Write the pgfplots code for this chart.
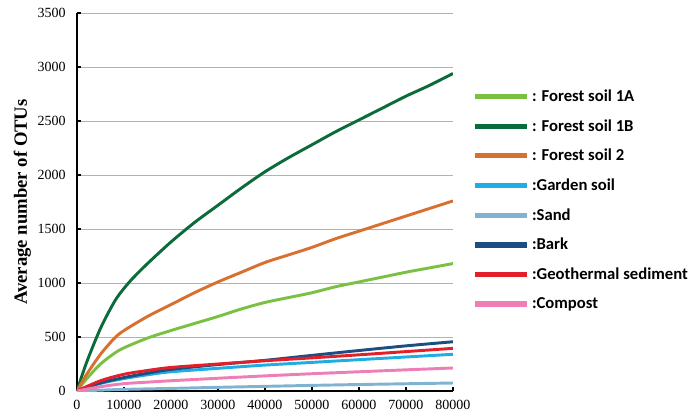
\documentclass[border=0pt]{standalone}
\usepackage{pgfplots}
\pgfplotsset{compat=1.18}
\usepackage{fontspec}
\setmainfont{Liberation Serif}
\newfontfamily\legfont{Carlito}
\definecolor{fs1a}{HTML}{7AC143}
\definecolor{fs1b}{HTML}{0B6B3A}
\definecolor{fs2}{HTML}{D8702F}
\definecolor{garden}{HTML}{1EAEE3}
\definecolor{sand}{HTML}{7FB3D0}
\definecolor{bark}{HTML}{1D4E82}
\definecolor{geo}{HTML}{E3202A}
\definecolor{compost}{HTML}{EE7EB6}

\begin{document}
\begin{tikzpicture}
\path (-57.75pt,-21pt) rectangle (464.25pt,293.25pt);
\begin{axis}[
    at={(0,0)}, anchor=south west,
    scale only axis,
    width=282pt, height=283.5pt,
    xmin=0, xmax=80000, ymin=0, ymax=3500,
    xtick={0,10000,...,80000},
    ytick={0,500,...,3500},
    scaled ticks=false,
    /pgf/number format/assume math mode=true,
    xticklabel style={/pgf/number format/fixed, /pgf/number format/1000 sep={}, font=\rmfamily\fontsize{10.5}{12}\selectfont, yshift=-3pt},
    yticklabel style={/pgf/number format/fixed, /pgf/number format/1000 sep={}, font=\rmfamily\fontsize{10.5}{12}\selectfont, xshift=-5pt},
    axis x line*=bottom, axis y line*=left,
    axis line style={line width=1.2pt, -},
    tick style={black, line width=0.8pt},
    major tick length=3pt,
    ymajorgrids,
    grid style={gray!60, line width=0.7pt},
    ylabel={\bfseries Average number of OTUs},
    ylabel style={font=\rmfamily\fontsize{14}{16}\selectfont, at={(axis description cs:-0.11,0.5)}},
    legend style={at={(rel axis cs:1.04,0.812)}, anchor=north west, draw=none, fill=none,
        font=\legfont\bfseries\fontsize{12.5}{14}\selectfont, row sep=8pt,
        cells={anchor=west}},
    legend image code/.code={\draw[line width=3.8pt] (0pt,0pt) -- (39pt,0pt);},
    every axis plot/.append style={line width=2.2pt, smooth, tension=0.5, no marks},
]
\addplot[color=fs1a] coordinates {
 (0,0) (2000,110) (5000,250) (8000,350) (10000,400) (15000,490) (20000,560) (25000,625) (30000,690)
 (35000,760) (40000,820) (45000,865) (50000,910) (55000,965) (60000,1010) (65000,1055) (70000,1100) (75000,1140) (80000,1180)};
\addlegendentry{: Forest soil 1A}
\addplot[color=fs1b] coordinates {
 (0,0) (2000,260) (5000,580) (8000,830) (10000,950) (12000,1050) (15000,1180) (20000,1380) (25000,1560) (30000,1720)
 (35000,1880) (40000,2030) (45000,2160) (50000,2280) (55000,2400) (60000,2510) (65000,2620) (70000,2730) (75000,2830) (80000,2940)};
\addlegendentry{: Forest soil 1B}
\addplot[color=fs2] coordinates {
 (0,0) (2000,150) (5000,340) (8000,490) (10000,560) (15000,690) (20000,800) (25000,910) (30000,1010)
 (35000,1100) (40000,1190) (45000,1260) (50000,1330) (55000,1410) (60000,1480) (65000,1550) (70000,1620) (75000,1690) (80000,1760)};
\addlegendentry{: Forest soil 2}
\addplot[color=garden] coordinates {
 (0,0) (5000,70) (10000,115) (15000,150) (20000,178) (30000,210) (40000,240) (50000,265) (60000,290) (70000,315) (80000,340)};
\addlegendentry{:Garden soil}
\addplot[color=sand] coordinates {
 (0,0) (5000,8) (10000,15) (20000,24) (30000,34) (40000,43) (50000,52) (60000,60) (70000,67) (80000,74)};
\addlegendentry{:Sand}
\addplot[color=bark] coordinates {
 (0,0) (5000,75) (10000,125) (15000,165) (20000,200) (30000,245) (40000,284) (50000,330) (60000,375) (70000,418) (80000,456)};
\addlegendentry{:Bark}
\addplot[color=geo] coordinates {
 (0,0) (5000,95) (10000,155) (15000,190) (20000,218) (30000,250) (40000,280) (50000,307) (60000,335) (70000,365) (80000,395)};
\addlegendentry{:Geothermal sediment}
\addplot[color=compost] coordinates {
 (0,0) (5000,40) (10000,68) (15000,82) (20000,95) (30000,118) (40000,140) (50000,160) (60000,178) (70000,196) (80000,213)};
\addlegendentry{:Compost}
\end{axis}
\end{tikzpicture}
\end{document}
